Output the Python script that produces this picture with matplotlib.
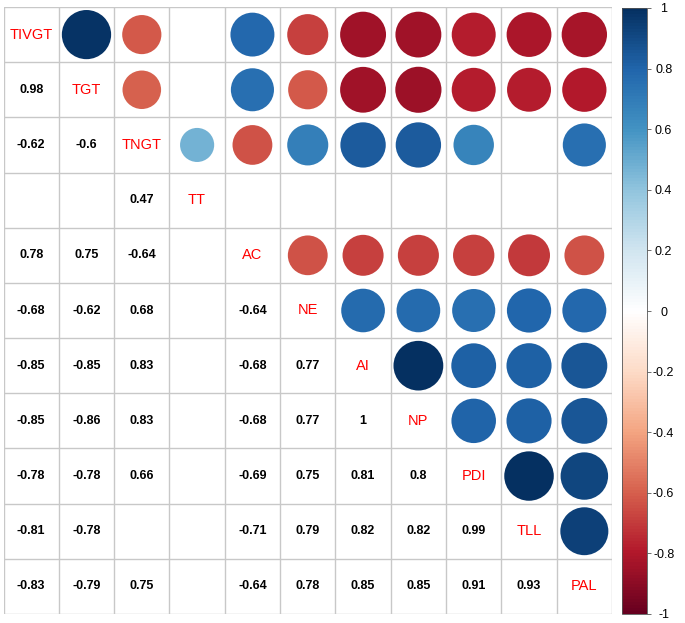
import numpy as np
import matplotlib
matplotlib.use("Agg")
import matplotlib.pyplot as plt
from matplotlib.colors import LinearSegmentedColormap, Normalize
from matplotlib.patches import Circle
import matplotlib.cm as cm

plt.rcParams['font.family'] = ['Liberation Sans', 'DejaVu Sans']

variables = ["TIVGT", "TGT", "TNGT", "TT", "AC", "NE", "AI", "NP", "PDI", "TLL", "PAL"]
nan = np.nan
# lower-triangle correlations (row i, columns 0..i-1); NaN = not significant (blank)
row_TGT = [0.98]
row_TNGT = [-0.62, -0.60]
row_TT = [nan, nan, 0.47]
row_AC = [0.78, 0.75, -0.64, nan]
row_NE = [-0.68, -0.62, 0.68, nan, -0.64]
row_AI = [-0.85, -0.85, 0.83, nan, -0.68, 0.77]
row_NP = [-0.85, -0.86, 0.83, nan, -0.68, 0.77, 1.0]
row_PDI = [-0.78, -0.78, 0.66, nan, -0.69, 0.75, 0.81, 0.80]
row_TLL = [-0.81, -0.78, nan, nan, -0.71, 0.79, 0.82, 0.82, 0.99]
row_PAL = [-0.83, -0.79, 0.75, nan, -0.64, 0.78, 0.85, 0.85, 0.91, 0.93]
lower_rows = [[], row_TGT, row_TNGT, row_TT, row_AC, row_NE, row_AI, row_NP,
              row_PDI, row_TLL, row_PAL]
cbar_ticks = [-1, -0.8, -0.6, -0.4, -0.2, 0, 0.2, 0.4, 0.6, 0.8, 1]

n = len(variables)
M = np.full((n, n), np.nan)
for i, row in enumerate(lower_rows):
    for j, v in enumerate(row):
        M[i, j] = v
        M[j, i] = v

cols = ["#67001F", "#B2182B", "#D6604D", "#F4A582", "#FDDBC7", "#FFFFFF",
        "#D1E5F0", "#92C5DE", "#4393C3", "#2166AC", "#053061"]
cmap = LinearSegmentedColormap.from_list("RdBu_corr", cols, N=200)
norm = Normalize(-1, 1)

fig = plt.figure(figsize=(6.85, 6.23), dpi=100)
W, H = 685, 623
gx0, gx1, gy0, gy1 = 3.5, 612, 7, 614
ax = fig.add_axes([gx0 / W, 1 - gy1 / H, (gx1 - gx0) / W, (gy1 - gy0) / H])
ax.set_xlim(-0.5, n - 0.5)
ax.set_ylim(n - 0.5, -0.5)
ax.set_axis_off()

grid_c = "#C8C8C8"
for k in range(n + 1):
    ax.plot([k - 0.5, k - 0.5], [-0.5, n - 0.5], color=grid_c, lw=1.0, zorder=1)
    ax.plot([-0.5, n - 0.5], [k - 0.5, k - 0.5], color=grid_c, lw=1.0, zorder=1)

for i in range(n):
    for j in range(n):
        if i == j:
            ax.text(j, i, variables[i], color="#FF0000", fontsize=10.5,
                    ha="center", va="center", zorder=3)
            continue
        v = M[i, j]
        if np.isnan(v):
            continue
        if j > i:
            r = 0.9 * np.sqrt(abs(v)) / 2
            ax.add_patch(Circle((j, i), r, facecolor=cmap(norm(v)),
                                edgecolor="none", zorder=2))
        else:
            txt = f"{v:g}"
            ax.text(j, i, txt, color="black", fontsize=9, fontweight="bold",
                    ha="center", va="center", zorder=3)

cax = fig.add_axes([622 / W, 1 - 614 / H, 25 / W, (614 - 8) / H])
sm = cm.ScalarMappable(norm=norm, cmap=cmap)
cb = fig.colorbar(sm, cax=cax, ticks=cbar_ticks)
cb.ax.set_yticklabels([f"{t:g}" for t in cbar_ticks])
cb.ax.tick_params(labelsize=9, length=3, width=0.6, color="#555555", pad=9)
cb.outline.set_linewidth(0.6)
cb.outline.set_edgecolor("#555555")
for lab in cb.ax.get_yticklabels():
    lab.set_horizontalalignment("center")

fig.savefig("out.png", dpi=100)
